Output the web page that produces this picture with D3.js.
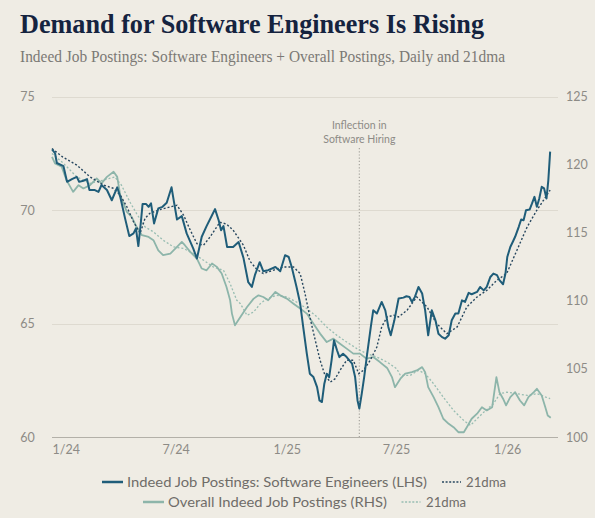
<!DOCTYPE html>
<html>
<head>
<meta charset="utf-8">
<script src="https://cdn.jsdelivr.net/npm/d3@7"></script>
<style>
  html, body { margin: 0; padding: 0; background: #efece4; }
  svg { display: block; }
</style>
</head>
<body>
<svg id="chart" width="595" height="518"></svg>
<script>
// ---------- DATA ----------
const title = "Demand for Software Engineers Is Rising";
const subtitle = "Indeed Job Postings: Software Engineers + Overall Postings, Daily and 21dma";

const xTickDates = ["2024-01-01", "2024-07-01", "2025-01-01", "2025-07-01", "2026-01-01"];
const xTickLabels = ["1/24", "7/24", "1/25", "7/25", "1/26"];
const leftTicks = [60, 65, 70, 75];
const rightTicks = [100, 105, 110, 115, 120, 125];
const inflectionDate = "2025-05-24";
const inflectionLabel = ["Inflection in", "Software Hiring"];

// Indeed Job Postings: Software Engineers (LHS), daily
const sweDaily = [
 ["2024-01-01",72.67],["2024-01-06",72.51],["2024-01-09",72.07],["2024-01-20",71.93],["2024-01-26",71.24],
 ["2024-02-03",71.36],["2024-02-11",71.46],["2024-02-15",71.24],["2024-02-22",71.29],["2024-02-28",71.36],
 ["2024-03-03",70.88],["2024-03-12",70.88],["2024-03-18",70.80],["2024-03-23",71.10],["2024-04-01",70.88],
 ["2024-04-09",70.43],["2024-04-18",71.00],["2024-04-23",70.58],["2024-05-01",69.63],["2024-05-08",68.85],
 ["2024-05-15",68.97],["2024-05-19",69.19],["2024-05-23",68.41],["2024-05-27",69.41],["2024-05-30",70.26],
 ["2024-06-05",70.26],["2024-06-09",70.14],["2024-06-13",70.29],["2024-06-18",69.41],["2024-06-25",70.07],
 ["2024-07-02",70.14],["2024-07-09",70.32],["2024-07-17",71.00],["2024-07-21",70.36],["2024-07-26",69.58],
 ["2024-08-03",69.73],["2024-08-11",68.97],["2024-08-22",68.30],["2024-08-28",67.86],["2024-09-05",68.82],
 ["2024-09-13",69.29],["2024-09-22",69.77],["2024-09-27",70.04],["2024-10-03",69.55],["2024-10-07",69.11],
 ["2024-10-11",69.29],["2024-10-17",68.37],["2024-10-27",68.37],["2024-11-05",68.59],["2024-11-13",67.90],
 ["2024-11-21",66.82],["2024-11-27",66.61],["2024-12-02",67.13],["2024-12-10",67.70],["2024-12-16",67.30],
 ["2024-12-24",67.35],["2025-01-05",67.49],["2025-01-13",67.30],["2025-01-21",68.01],["2025-01-27",67.93],
 ["2025-02-01",67.49],["2025-02-09",66.61],["2025-02-15",65.88],["2025-02-20",64.85],["2025-02-26",63.67],
 ["2025-03-03",62.79],["2025-03-09",62.64],["2025-03-15",62.20],["2025-03-19",61.61],["2025-03-23",61.54],
 ["2025-03-27",62.35],["2025-03-31",62.79],["2025-04-04",62.64],["2025-04-08",63.38],["2025-04-12",64.26],
 ["2025-04-17",63.82],["2025-04-21",63.52],["2025-04-27",63.67],["2025-05-03",63.52],["2025-05-12",63.23],
 ["2025-05-17",62.64],["2025-05-21",61.61],["2025-05-24",61.25],["2025-05-28",61.91],["2025-06-01",62.64],
 ["2025-06-06",63.67],["2025-06-12",64.85],["2025-06-16",65.58],["2025-06-22",65.44],["2025-06-30",65.95],
 ["2025-07-06",65.58],["2025-07-11",64.85],["2025-07-15",64.48],["2025-07-21",65.14],["2025-07-28",66.10],
 ["2025-08-05",66.14],["2025-08-10",66.20],["2025-08-15",66.17],["2025-08-19",65.95],["2025-08-24",66.17],
 ["2025-08-30",66.61],["2025-09-05",66.32],["2025-09-10",65.58],["2025-09-15",64.48],["2025-09-21",65.58],
 ["2025-09-27",65.14],["2025-10-02",64.55],["2025-10-08",64.40],["2025-10-13",64.33],["2025-10-19",64.48],
 ["2025-10-24",65.14],["2025-10-30",65.44],["2025-11-04",65.44],["2025-11-10",66.02],["2025-11-15",65.95],
 ["2025-11-21",66.35],["2025-11-26",66.29],["2025-12-05",66.39],["2025-12-10",66.61],["2025-12-16",66.46],
 ["2025-12-21",66.61],["2025-12-27",67.05],["2026-01-01",67.20],["2026-01-07",67.13],["2026-01-11",66.91],
 ["2026-01-17",66.73],["2026-01-21",67.20],["2026-01-24",67.93],["2026-01-29",68.37],["2026-02-02",68.59],
 ["2026-02-06",68.82],["2026-02-12",69.26],["2026-02-16",69.58],["2026-02-20",69.55],["2026-02-24",69.99],
 ["2026-03-02",70.02],["2026-03-06",70.29],["2026-03-10",70.58],["2026-03-14",70.14],["2026-03-18",70.51],
 ["2026-03-22",71.02],["2026-03-26",70.95],["2026-03-30",70.51],["2026-04-02",71.32],["2026-04-05",72.57]
];

// Software Engineers 21dma (LHS)
const swe21dma = [
 ["2024-01-01",72.71],["2024-01-19",72.33],["2024-02-11",71.98],["2024-03-04",71.46],["2024-03-26",71.10],
 ["2024-04-11",70.96],["2024-04-23",70.66],["2024-05-04",70.14],["2024-05-15",69.48],["2024-05-26",68.97],
 ["2024-06-03",69.63],["2024-06-11",69.85],["2024-06-28",70.02],["2024-07-15",70.14],["2024-07-26",70.21],
 ["2024-08-06",69.77],["2024-08-17",69.11],["2024-08-28",68.52],["2024-09-08",68.45],["2024-09-19",68.82],
 ["2024-10-05",69.46],["2024-10-16",69.38],["2024-10-27",69.11],["2024-11-13",68.45],["2024-11-24",67.74],
 ["2024-12-05",67.39],["2024-12-16",67.20],["2025-01-02",67.35],["2025-01-18",67.49],["2025-02-04",67.49],
 ["2025-02-15",67.20],["2025-02-23",66.32],["2025-03-03",65.29],["2025-03-12",64.26],["2025-03-20",63.38],
 ["2025-03-28",62.72],["2025-04-06",62.42],["2025-04-14",62.57],["2025-04-22",62.94],["2025-05-03",63.38],
 ["2025-05-14",63.38],["2025-05-23",62.79],["2025-05-31",62.94],["2025-06-11",63.38],["2025-06-22",63.96],
 ["2025-06-30",64.85],["2025-07-09",65.29],["2025-07-20",65.36],["2025-07-28",65.29],["2025-08-11",65.58],
 ["2025-08-27",66.17],["2025-09-13",65.73],["2025-09-29",65.00],["2025-10-16",64.55],["2025-11-02",64.85],
 ["2025-11-18",65.73],["2025-12-05",66.17],["2025-12-21",66.46],["2026-01-07",66.91],["2026-01-23",67.20],
 ["2026-02-09",68.23],["2026-02-26",69.26],["2026-03-14",69.99],["2026-03-25",70.43],["2026-04-05",70.88]
];

// Overall Indeed Job Postings (RHS), daily
const overallDaily = [
 ["2024-01-01",120.57],["2024-01-06",120.09],["2024-01-17",119.84],["2024-01-25",118.86],["2024-02-05",118.00],
 ["2024-02-14",118.49],["2024-02-22",118.25],["2024-03-04",118.49],["2024-03-15",118.99],["2024-03-23",118.62],
 ["2024-04-01",119.10],["2024-04-12",119.47],["2024-04-18",119.10],["2024-04-23",117.76],["2024-05-04",116.53],
 ["2024-05-12",116.16],["2024-05-20",115.43],["2024-05-29",114.82],["2024-06-09",114.69],["2024-06-17",114.45],
 ["2024-06-25",113.71],["2024-07-03",113.35],["2024-07-15",113.47],["2024-07-26",113.96],["2024-08-03",114.32],
 ["2024-08-08",114.08],["2024-08-17",113.59],["2024-08-28",113.10],["2024-09-05",112.37],["2024-09-13",112.24],
 ["2024-09-22",112.74],["2024-09-30",112.49],["2024-10-08",112.00],["2024-10-16",111.01],["2024-10-22",110.04],
 ["2024-10-25",109.06],["2024-10-30",108.20],["2024-11-08",108.81],["2024-11-19",109.54],["2024-11-30",110.16],
 ["2024-12-08",110.40],["2024-12-16",110.28],["2024-12-24",110.04],["2025-01-05",110.65],["2025-01-13",110.40],
 ["2025-01-24",110.16],["2025-02-04",109.79],["2025-02-15",109.43],["2025-02-26",109.06],["2025-03-09",108.32],
 ["2025-03-20",107.59],["2025-03-31",106.97],["2025-04-11",107.22],["2025-04-22",106.85],["2025-05-03",106.49],
 ["2025-05-14",106.12],["2025-05-25",106.12],["2025-06-05",105.75],["2025-06-16",105.87],["2025-06-27",105.50],
 ["2025-07-09",105.07],["2025-07-17",104.40],["2025-07-22",103.66],["2025-07-31",104.28],["2025-08-08",104.65],
 ["2025-08-19",104.76],["2025-08-27",104.89],["2025-09-05",105.13],["2025-09-10",104.76],["2025-09-15",103.66],
 ["2025-09-24",102.93],["2025-10-02",102.19],["2025-10-10",101.34],["2025-10-19",100.97],["2025-10-27",100.72],
 ["2025-11-04",100.35],["2025-11-13",100.35],["2025-11-18",100.72],["2025-11-26",101.34],["2025-12-05",101.71],
 ["2025-12-13",102.19],["2025-12-21",101.95],["2025-12-30",102.19],["2026-01-06",104.40],["2026-01-11",103.29],
 ["2026-01-17",102.81],["2026-01-22",102.32],["2026-01-29",102.93],["2026-02-06",103.29],["2026-02-14",102.68],
 ["2026-02-21",102.32],["2026-02-28",102.93],["2026-03-09",103.29],["2026-03-14",103.54],["2026-03-22",103.05],
 ["2026-03-28",102.19],["2026-04-01",101.58],["2026-04-06",101.41]
];

// Overall postings 21dma (RHS)
const overall21dma = [
 ["2024-01-01",120.82],["2024-01-20",120.09],["2024-02-11",119.10],["2024-03-04",118.62],["2024-03-26",118.86],
 ["2024-04-14",119.10],["2024-04-25",118.49],["2024-05-09",117.26],["2024-05-20",116.41],["2024-06-03",115.43],
 ["2024-06-17",115.06],["2024-07-03",114.45],["2024-07-20",113.96],["2024-08-06",113.84],["2024-08-22",113.47],
 ["2024-09-08",112.98],["2024-09-24",112.49],["2024-10-11",112.24],["2024-10-22",111.26],["2024-11-02",110.04],
 ["2024-11-08",109.79],["2024-11-19",108.93],["2024-11-30",109.18],["2024-12-11",109.79],["2024-12-22",110.16],
 ["2025-01-07",110.40],["2025-01-24",110.28],["2025-02-09",109.91],["2025-02-26",109.43],["2025-03-15",108.81],
 ["2025-03-31",108.07],["2025-04-17",107.46],["2025-05-03",106.97],["2025-05-20",106.49],["2025-06-05",106.12],
 ["2025-06-22",105.87],["2025-07-09",105.50],["2025-07-25",105.01],["2025-07-31",104.52],["2025-08-16",104.52],
 ["2025-08-30",104.89],["2025-09-10",104.65],["2025-09-24",103.91],["2025-10-10",102.93],["2025-10-27",101.95],
 ["2025-11-13",101.21],["2025-11-24",100.85],["2025-12-05",101.34],["2025-12-16",101.82],["2026-01-01",102.44],
 ["2026-01-12",103.18],["2026-01-23",103.29],["2026-02-09",103.18],["2026-02-26",103.05],["2026-03-14",103.18],
 ["2026-04-05",102.81]
];

const legendRows = [
  { label: "Indeed Job Postings: Software Engineers (LHS)", ma: "21dma" },
  { label: "Overall Indeed Job Postings (RHS)", ma: "21dma" }
];

// ---------- DRAWING ----------
const parse = d3.timeParse("%Y-%m-%d");
const svg = d3.select("#chart");
const W = 595, H = 518;
const plot = { left: 52, right: 558, top: 96.5, bottom: 437 };

const C = {
  bg: "#efece4",
  title: "#15233f",
  sub: "#7b7975",
  axisText: "#8d8b86",
  grid: "#dedad0",
  base: "#b3b0a8",
  dark: "#1f5d79",
  darkMA: "#27475f",
  light: "#8db5aa",
  lightMA: "#98bdb2",
  legendText: "#6f6d69",
  inflect: "#a8a69f"
};

svg.append("rect").attr("width", W).attr("height", H).attr("fill", C.bg);

const x = d3.scaleTime()
  .domain([parse("2024-01-01"), parse("2026-04-18")])
  .range([plot.left, plot.right]);
const yL = d3.scaleLinear().domain([60, 75]).range([plot.bottom, plot.top]);
const yR = d3.scaleLinear().domain([100, 125]).range([plot.bottom, plot.top]);

// Title & subtitle
svg.append("text")
  .attr("x", 20).attr("y", 33)
  .attr("font-family", "'Liberation Serif', 'DejaVu Serif', serif")
  .attr("font-weight", "bold")
  .attr("font-size", 28)
  .attr("fill", C.title)
  .attr("textLength", 464).attr("lengthAdjust", "spacingAndGlyphs")
  .text(title);

svg.append("text")
  .attr("x", 20).attr("y", 62)
  .attr("font-family", "'Liberation Serif', 'DejaVu Serif', serif")
  .attr("font-size", 17)
  .attr("fill", C.sub)
  .attr("textLength", 485).attr("lengthAdjust", "spacingAndGlyphs")
  .text(subtitle);

// Gridlines (left ticks)
const gridG = svg.append("g");
gridG.selectAll("line").data(leftTicks).join("line")
  .attr("x1", plot.left).attr("x2", plot.right)
  .attr("y1", d => Math.round(yL(d)) + 0.5).attr("y2", d => Math.round(yL(d)) + 0.5)
  .attr("stroke", d => d === 60 ? C.base : C.grid)
  .attr("stroke-width", 1);

// Left axis labels
const labelFont = "Lato, 'Open Sans', sans-serif";
const leftAxis = d3.axisLeft(yL).tickValues(leftTicks).tickSize(0).tickPadding(0);
const gL = svg.append("g").attr("transform", "translate(34,0)").call(leftAxis);
gL.select(".domain").remove();
gL.selectAll("text")
  .attr("font-family", labelFont).attr("font-size", 12.5)
  .attr("fill", C.axisText).attr("x", -6.5).attr("text-anchor", "middle");

// Right axis labels
const rightAxis = d3.axisRight(yR).tickValues(rightTicks).tickSize(0).tickPadding(0);
const gR = svg.append("g").attr("transform", "translate(566,0)").call(rightAxis);
gR.select(".domain").remove();
gR.selectAll("text")
  .attr("font-family", labelFont).attr("font-size", 12.5)
  .attr("fill", C.axisText);

// X axis labels
const xAxis = d3.axisBottom(x)
  .tickValues(xTickDates.map(parse))
  .tickFormat((d, i) => xTickLabels[i])
  .tickSize(0).tickPadding(0);
const gX = svg.append("g").attr("transform", `translate(0,${plot.bottom + 8})`).call(xAxis);
gX.select(".domain").remove();
gX.selectAll("text")
  .attr("font-family", labelFont).attr("font-size", 12.5)
  .attr("fill", C.axisText).attr("text-anchor", "start").attr("dy", "0.71em");

// Inflection line
const xi = x(parse(inflectionDate));
svg.append("line")
  .attr("x1", xi).attr("x2", xi)
  .attr("y1", 148).attr("y2", plot.bottom)
  .attr("stroke", C.inflect).attr("stroke-width", 1.2)
  .attr("stroke-dasharray", "1.2,2");
svg.append("g").selectAll("text").data(inflectionLabel).join("text")
  .attr("x", xi).attr("y", (d, i) => 129 + i * 14)
  .attr("text-anchor", "middle")
  .attr("font-family", labelFont).attr("font-size", 10.5)
  .attr("fill", C.axisText)
  .text(d => d);

// Lines
const lineL = d3.line().x(d => x(parse(d[0]))).y(d => yL(d[1]));
const lineR = d3.line().x(d => x(parse(d[0]))).y(d => yR(d[1]));

svg.append("path").datum(overall21dma).attr("d", lineR)
  .attr("fill", "none").attr("stroke", C.lightMA).attr("stroke-width", 1.3)
  .attr("stroke-dasharray", "2,2");
svg.append("path").datum(overallDaily).attr("d", lineR)
  .attr("fill", "none").attr("stroke", C.light).attr("stroke-width", 1.8)
  .attr("stroke-linejoin", "round");
svg.append("path").datum(swe21dma).attr("d", lineL)
  .attr("fill", "none").attr("stroke", C.darkMA).attr("stroke-width", 1.4)
  .attr("stroke-dasharray", "2,2");
svg.append("path").datum(sweDaily).attr("d", lineL)
  .attr("fill", "none").attr("stroke", C.dark).attr("stroke-width", 2)
  .attr("stroke-linejoin", "round");

// Legend
const legendSpec = [
  { y: 482, x0: 102, textW: 300, maX: 442, maTextX: 466, color: C.dark, maColor: C.darkMA },
  { y: 502, x0: 143, textW: 219, maX: 401.5, maTextX: 426, color: C.light, maColor: C.lightMA }
];
legendRows.forEach((r, i) => {
  const s = legendSpec[i];
  const g = svg.append("g");
  g.append("line").attr("x1", s.x0).attr("x2", s.x0 + 21).attr("y1", s.y).attr("y2", s.y)
    .attr("stroke", s.color).attr("stroke-width", 2.5);
  g.append("text").attr("x", s.x0 + 25).attr("y", s.y + 4.5)
    .attr("font-family", labelFont).attr("font-size", 13.5).attr("fill", C.legendText)
    .attr("textLength", s.textW).attr("lengthAdjust", "spacingAndGlyphs")
    .text(r.label);
  g.append("line").attr("x1", s.maX).attr("x2", s.maX + 19).attr("y1", s.y).attr("y2", s.y)
    .attr("stroke", s.maColor).attr("stroke-width", 1.4).attr("stroke-dasharray", "2,1.6");
  g.append("text").attr("x", s.maTextX).attr("y", s.y + 4.5)
    .attr("font-family", labelFont).attr("font-size", 13.5).attr("fill", C.legendText)
    .attr("textLength", 40).attr("lengthAdjust", "spacingAndGlyphs")
    .text(r.ma);
});
</script>
</body>
</html>
